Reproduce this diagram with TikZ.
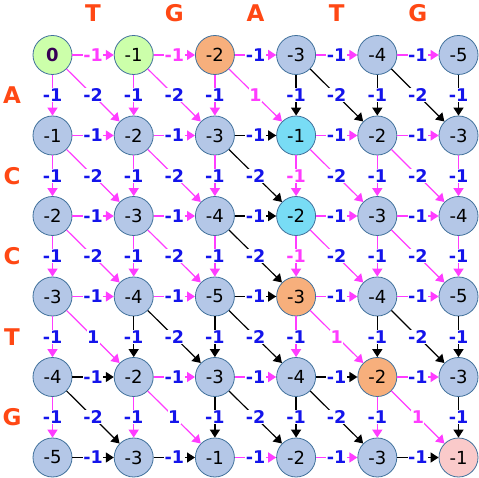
\documentclass[tikz,border=0pt]{standalone}
\usepackage{fontspec}
\setmainfont{DejaVu Sans}
\usetikzlibrary{arrows.meta}
\definecolor{mg}{RGB}{255,60,255}
\definecolor{bl}{RGB}{20,20,235}
\definecolor{hdrc}{RGB}{255,72,20}
\definecolor{cellline}{RGB}{65,113,156}
\definecolor{bf}{RGB}{180,199,231}
\definecolor{gr}{RGB}{204,255,170}
\definecolor{orc}{RGB}{247,175,124}
\definecolor{cy}{RGB}{120,220,245}
\definecolor{pk}{RGB}{250,202,202}
\definecolor{zc}{RGB}{55,0,85}
\newcommand\zerotxt{\textcolor{zc}{\bfseries 0}}
\begin{document}
\begin{tikzpicture}[x=1pt,y=-1pt,
  cell/.style={circle,draw=cellline,line width=0.8pt,minimum size=39pt,inner sep=0pt,font=\fontsize{18}{20}\selectfont},
  edge/.style={line width=1.5pt,-{Triangle[length=8pt,width=10pt]}},
  lbl/.style={fill=white,inner sep=0.5pt,font=\bfseries\fontsize{17.5}{20}\selectfont},
  hdr/.style={text=hdrc,font=\bfseries\fontsize{23}{26}\selectfont}]
\fill[white] (0,0) rectangle (479,478);
\useasboundingbox (0,0) rectangle (479,478);

% cells
\foreach \r/\vals in {
  0/{\zerotxt/gr,-1/gr,-2/orc,-3/bf,-4/bf,-5/bf},
  1/{-1/bf,-2/bf,-3/bf,-1/cy,-2/bf,-3/bf},
  2/{-2/bf,-3/bf,-4/bf,-2/cy,-3/bf,-4/bf},
  3/{-3/bf,-4/bf,-5/bf,-3/orc,-4/bf,-5/bf},
  4/{-4/bf,-2/bf,-3/bf,-4/bf,-2/orc,-3/bf},
  5/{-5/bf,-3/bf,-1/bf,-2/bf,-3/bf,-1/pk}}{
  \foreach \v/\f [count=\c from 0] in \vals {
    \node[cell,fill=\f] (n\r\c) at ({52.5+81.2*\c},{55+80.5*\r}) {\v};
  }
}

% horizontal edges
\foreach \r/\c/\k/\lc in {
  0/0/mg/mg, 0/1/mg/mg, 0/2/mg/bl, 0/3/mg/bl, 0/4/mg/bl,
  1/0/mg/bl, 1/1/mg/bl, 1/2/black/bl, 1/3/mg/bl, 1/4/mg/bl,
  2/0/mg/bl, 2/1/mg/bl, 2/2/black/bl, 2/3/mg/bl, 2/4/mg/bl,
  3/0/mg/bl, 3/1/mg/bl, 3/2/black/bl, 3/3/mg/bl, 3/4/mg/bl,
  4/0/black/bl, 4/1/mg/bl, 4/2/mg/bl, 4/3/black/bl, 4/4/mg/bl,
  5/0/black/bl, 5/1/black/bl, 5/2/mg/bl, 5/3/mg/bl, 5/4/black/bl}{
  \pgfmathtruncatemacro\cc{\c+1}
  \draw[edge,draw=\k] (n\r\c) -- node[lbl,text=\lc]{-1} (n\r\cc);
}

% vertical edges
\foreach \r/\c/\k/\lc in {
  0/0/mg/bl, 0/1/mg/bl, 0/2/mg/bl, 0/3/black/bl, 0/4/black/bl, 0/5/black/bl,
  1/0/mg/bl, 1/1/mg/bl, 1/2/mg/bl, 1/3/mg/mg, 1/4/mg/bl, 1/5/mg/bl,
  2/0/mg/bl, 2/1/mg/bl, 2/2/mg/bl, 2/3/mg/mg, 2/4/mg/bl, 2/5/mg/bl,
  3/0/mg/bl, 3/1/black/bl, 3/2/black/bl, 3/3/mg/bl, 3/4/black/bl, 3/5/black/bl,
  4/0/mg/bl, 4/1/mg/bl, 4/2/black/bl, 4/3/black/bl, 4/4/mg/bl, 4/5/black/bl}{
  \pgfmathtruncatemacro\rr{\r+1}
  \draw[edge,draw=\k] (n\r\c) -- node[lbl,text=\lc]{-1} (n\rr\c);
}

% diagonal edges
\foreach \r/\c/\k/\lc/\t in {
  0/0/mg/bl/-2, 0/1/mg/bl/-2, 0/2/mg/mg/1, 0/3/black/bl/-2, 0/4/black/bl/-2,
  1/0/mg/bl/-2, 1/1/mg/bl/-2, 1/2/black/bl/-2, 1/3/mg/bl/-2, 1/4/mg/bl/-2,
  2/0/mg/bl/-2, 2/1/mg/bl/-2, 2/2/black/bl/-2, 2/3/mg/bl/-2, 2/4/mg/bl/-2,
  3/0/mg/bl/1, 3/1/black/bl/-2, 3/2/black/bl/-2, 3/3/mg/mg/1, 3/4/black/bl/-2,
  4/0/black/bl/-2, 4/1/mg/bl/1, 4/2/black/bl/-2, 4/3/black/bl/-2, 4/4/mg/mg/1}{
  \pgfmathtruncatemacro\rr{\r+1}
  \pgfmathtruncatemacro\cc{\c+1}
  \draw[edge,draw=\k,line width=1.2pt] (n\r\c) -- node[lbl,text=\lc]{\t} (n\rr\cc);
}

% headers
\foreach \l [count=\i from 0] in {T,G,A,T,G}{
  \node[hdr] (h\i) at ({93+81.2*\i},13) {\l};
}
\foreach \l [count=\i from 0] in {A,C,C,T,G}{
  \node[hdr] (v\i) at (12,{95.5+80.5*\i}) {\l};
}
\end{tikzpicture}
\end{document}
